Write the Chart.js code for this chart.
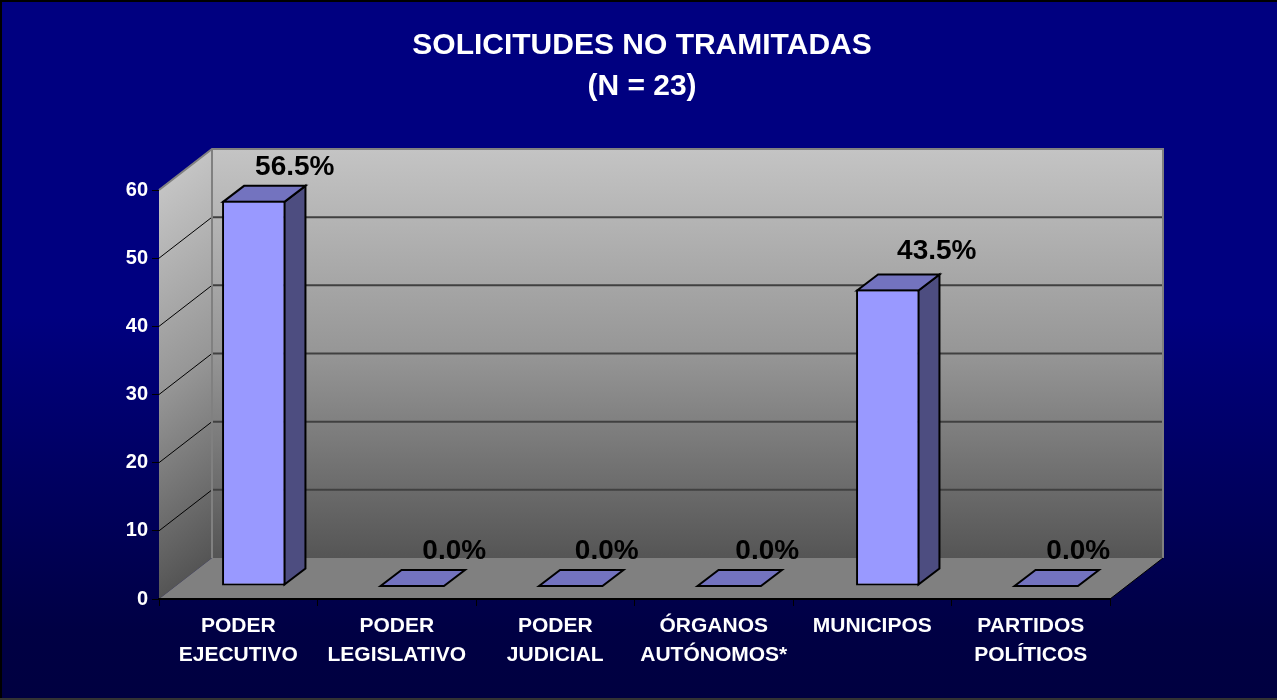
<!DOCTYPE html>
<html>
<head>
<meta charset="utf-8">
<title>Solicitudes no tramitadas</title>
<script src="https://cdn.jsdelivr.net/npm/chart.js@4"></script>
<style>
  html, body { margin: 0; padding: 0; background: #000040; }
  #wrap { width: 1277px; height: 700px; }
  canvas { display: block; }
</style>
</head>
<body>
<div id="wrap"><canvas id="chart" width="1277" height="700"></canvas></div>
<script>
var titleLines = ['SOLICITUDES NO TRAMITADAS', '(N = 23)'];
var categories = [
  ['PODER', 'EJECUTIVO'],
  ['PODER', 'LEGISLATIVO'],
  ['PODER', 'JUDICIAL'],
  ['ÓRGANOS', 'AUTÓNOMOS*'],
  'MUNICIPOS',
  ['PARTIDOS', 'POLÍTICOS']
];
var values = [56.5, 0, 0, 0, 43.5, 0];
var valueLabels = ['56.5%', '0.0%', '0.0%', '0.0%', '43.5%', '0.0%'];
var yTicks = [0, 10, 20, 30, 40, 50, 60];

// hand placement of the value labels, relative to the top of each bar
var labelNudgeX = [41, 42, 36, 38, 49, 32];
var labelNudgeY = [-34, -35, -35, -35, -38, -35];

// 3d box look: wall depth and how deep the bars sit in it
var DEPTH_X = 53, DEPTH_Y = 41;
var BAR_X = 15.5, BAR_Y = 13;
var BAR_DX = 21, BAR_DY = 16;

function wallGradient(ctx, top, bottom) {
  var g = ctx.createLinearGradient(0, top, 0, bottom);
  g.addColorStop(0, '#c4c4c4');
  g.addColorStop(0.5, '#969696');
  g.addColorStop(1, '#555555');
  return g;
}

var box3d = {
  id: 'box3d',
  beforeDraw: function(chart) {
    var ctx = chart.ctx, a = chart.chartArea, y = chart.scales.y;
    ctx.save();

    // slide background
    var bg = ctx.createLinearGradient(0, 0, 0, chart.height);
    bg.addColorStop(0, '#000080');
    bg.addColorStop(0.45, '#000080');
    bg.addColorStop(0.9, '#000044');
    bg.addColorStop(1, '#000040');
    ctx.fillStyle = bg;
    ctx.fillRect(0, 0, chart.width, chart.height);
    ctx.fillStyle = '#000000';
    ctx.fillRect(0, 0, chart.width, 2);
    ctx.fillRect(0, 0, 2, chart.height);
    ctx.fillStyle = '#333333';
    ctx.fillRect(0, chart.height - 2, chart.width, 2);

    var bl = a.left + DEPTH_X, br = a.right + DEPTH_X;
    var bt = a.top - DEPTH_Y, bb = a.bottom - DEPTH_Y;

    // back wall
    ctx.fillStyle = wallGradient(ctx, bt, bb);
    ctx.fillRect(bl, bt, br - bl, bb - bt);

    // side wall, sheared so the shading follows the wall
    ctx.save();
    ctx.beginPath();
    ctx.moveTo(a.left, a.top);
    ctx.lineTo(bl, bt);
    ctx.lineTo(bl, bb);
    ctx.lineTo(a.left, a.bottom);
    ctx.closePath();
    ctx.clip();
    ctx.transform(1, -DEPTH_Y / DEPTH_X, 0, 1, 0, a.left * DEPTH_Y / DEPTH_X);
    ctx.fillStyle = wallGradient(ctx, a.top, a.bottom);
    ctx.fillRect(a.left, a.top - 5, DEPTH_X, a.bottom - a.top + 10);
    ctx.restore();

    // floor
    ctx.fillStyle = '#808080';
    ctx.beginPath();
    ctx.moveTo(a.left, a.bottom);
    ctx.lineTo(bl, bb);
    ctx.lineTo(br, bb);
    ctx.lineTo(a.right, a.bottom);
    ctx.closePath();
    ctx.fill();

    // gridlines on both walls
    yTicks.forEach(function(v) {
      if (v === 0 || v === 60) return;
      var py = y.getPixelForValue(v);
      ctx.strokeStyle = '#000000';
      ctx.lineWidth = 1;
      ctx.beginPath();
      ctx.moveTo(a.left, py);
      ctx.lineTo(bl, py - DEPTH_Y);
      ctx.stroke();
      ctx.strokeStyle = '#404040';
      ctx.lineWidth = 2;
      ctx.beginPath();
      ctx.moveTo(bl, py - DEPTH_Y);
      ctx.lineTo(br, py - DEPTH_Y);
      ctx.stroke();
    });

    // wall outlines
    ctx.strokeStyle = '#808080';
    ctx.lineWidth = 2;
    ctx.beginPath();
    ctx.moveTo(a.left, a.top);
    ctx.lineTo(bl, bt);
    ctx.lineTo(br, bt);
    ctx.lineTo(br, bb);
    ctx.moveTo(bl, bt);
    ctx.lineTo(bl, bb);
    ctx.stroke();

    ctx.strokeStyle = '#000000';
    ctx.lineWidth = 1;
    ctx.beginPath();
    ctx.moveTo(a.right, a.bottom);
    ctx.lineTo(br, bb);
    ctx.stroke();
    ctx.restore();
  },
  beforeDatasetsDraw: function(chart) {
    var ctx = chart.ctx;
    var meta = chart.getDatasetMeta(0);
    ctx.save();
    ctx.translate(BAR_X, -BAR_Y);
    ctx.lineWidth = 2;
    ctx.strokeStyle = '#000000';
    ctx.lineJoin = 'miter';
    meta.data.forEach(function(bar, i) {
      // the library strokes inside the bar, so line up with the middle of that border
      var inset = values[i] > 0 ? 1 : 0;
      var l = bar.x - bar.width / 2 + inset, r = bar.x + bar.width / 2 - inset;
      var t = bar.y + inset, b = bar.base - inset;
      // side face
      if (values[i] > 0) {
        ctx.fillStyle = '#4d4d80';
        ctx.beginPath();
        ctx.moveTo(r, t);
        ctx.lineTo(r + BAR_DX, t - BAR_DY);
        ctx.lineTo(r + BAR_DX, b - BAR_DY);
        ctx.lineTo(r, b);
        ctx.closePath();
        ctx.fill();
        ctx.stroke();
      }
      // top face
      ctx.fillStyle = '#7373bf';
      ctx.beginPath();
      ctx.moveTo(l, t);
      ctx.lineTo(l + BAR_DX, t - BAR_DY);
      ctx.lineTo(r + BAR_DX, t - BAR_DY);
      ctx.lineTo(r, t);
      ctx.closePath();
      ctx.fill();
      ctx.stroke();
    });
    ctx.restore();
    // the front faces are drawn by the library, shifted into the box
    ctx.save();
    ctx.translate(BAR_X, -BAR_Y);
  },
  afterDatasetsDraw: function(chart) {
    var ctx = chart.ctx;
    ctx.restore();
    var meta = chart.getDatasetMeta(0);
    ctx.save();
    ctx.fillStyle = '#000000';
    ctx.font = 'bold 28px "Liberation Sans", Arial, sans-serif';
    ctx.textAlign = 'center';
    ctx.textBaseline = 'middle';
    meta.data.forEach(function(bar, i) {
      ctx.fillText(valueLabels[i], bar.x + BAR_X + labelNudgeX[i], bar.y - BAR_Y + labelNudgeY[i]);
    });
    ctx.restore();
  }
};

document.addEventListener('DOMContentLoaded', function() {
  new Chart(document.getElementById('chart'), {
    type: 'bar',
    data: {
      labels: categories,
      datasets: [{
        data: values,
        backgroundColor: '#9999ff',
        borderColor: '#000000',
        borderWidth: function(c) { return values[c.dataIndex] > 0 ? 2 : 0; },
        borderSkipped: false,
        barPercentage: 0.4,
        categoryPercentage: 1
      }]
    },
    options: {
      responsive: false,
      animation: false,
      // left padding only nudges the full width title to its centre
      layout: { padding: { left: 7 } },
      plugins: {
        legend: { display: false },
        tooltip: { enabled: false },
        title: {
          display: true,
          text: titleLines,
          color: '#ffffff',
          font: { family: '"Liberation Sans", Arial, sans-serif', size: 30, weight: 'bold', lineHeight: 41 / 30 },
          padding: { top: 25, bottom: 83 }
        }
      },
      scales: {
        x: {
          afterFit: function(s) { s.height = 101; },
          border: { color: '#000000', width: 2 },
          grid: { drawOnChartArea: false, drawTicks: true, tickLength: 7, tickColor: '#000000', tickWidth: 1 },
          ticks: {
            color: '#ffffff',
            maxRotation: 0,
            minRotation: 0,
            autoSkip: false,
            padding: 6,
            font: { family: '"Liberation Sans", Arial, sans-serif', size: 21, weight: 'bold', lineHeight: 29 / 21 }
          }
        },
        y: {
          min: 0,
          max: 60,
          afterFit: function(s) { s.width = 152; },
          afterBuildTicks: function(s) { s.ticks = yTicks.map(function(v) { return { value: v }; }); },
          border: { color: '#808080', width: 0 },
          grid: { drawOnChartArea: false, drawTicks: true, tickLength: 7, tickColor: '#000000', tickWidth: 1 },
          ticks: {
            color: '#ffffff',
            padding: 4,
            font: { family: '"Liberation Sans", Arial, sans-serif', size: 20, weight: 'bold' }
          }
        },
        // empty axis, reserves the room the 3d box needs on the right
        spacer: {
          type: 'linear',
          position: 'right',
          afterFit: function(s) { s.width = 167; },
          border: { display: false },
          grid: { display: false },
          ticks: { display: false }
        }
      }
    },
    plugins: [box3d]
  });
});
</script>
</body>
</html>
